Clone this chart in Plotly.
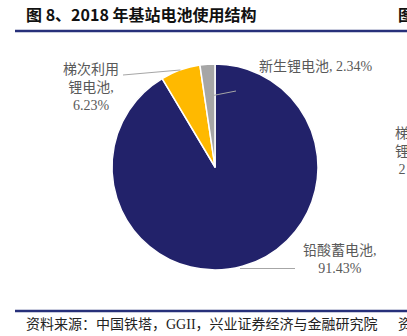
import math
import plotly.graph_objects as go

# 2018 base-station battery mix (share of installed base, %)
labels = ["铅酸蓄电池", "梯次利用锂电池", "新生锂电池"]
shares = [91.43, 6.23, 2.34]
colors = ["#22226A", "#FFB900", "#A6A6A6"]

W, H = 407, 336
CX, CY, R = 215, 167, 103   # pie centre and radius in pixels

def px(x):
    return x / W

def py(y):
    return 1 - y / H

def rim_point(idx, frac_r=1.0):
    """Point on the pie at the middle angle of slice idx (clockwise from 12 o'clock)."""
    total = sum(shares)
    start = sum(shares[:idx]) / total
    mid = (start + shares[idx] / total / 2) * 2 * math.pi
    return CX + R * frac_r * math.sin(mid), CY - R * frac_r * math.cos(mid)

fig = go.Figure(go.Pie(
    labels=labels,
    values=shares,
    sort=False,
    direction="clockwise",
    rotation=0,
    marker=dict(colors=colors, line=dict(color="white", width=1.5)),
    textinfo="none",
    hoverinfo="label+percent",
    showlegend=False,
    domain=dict(x=[px(CX - R), px(CX + R)], y=[py(CY + R), py(CY - R)]),
))

label_font = dict(family="Liberation Serif, Noto Sans CJK SC", size=14, color="#595959")
head_font = dict(family="Noto Sans CJK SC", size=16, color="#111111")
src_font = dict(family="Liberation Serif, Noto Sans CJK SC", size=14, color="#222222")

annotations = [
    dict(x=px(24), y=py(14), text="<b>图 8、2018 年基站电池使用结构</b>",
         xanchor="left", yanchor="middle", showarrow=False, font=head_font),
    dict(x=px(396), y=py(14), text="<b>图</b>",
         xanchor="left", yanchor="middle", showarrow=False, font=head_font),
    dict(x=px(24), y=py(324), text="资料来源：中国铁塔，GGII，兴业证券经济与金融研究院",
         xanchor="left", yanchor="middle", showarrow=False, font=src_font),
    dict(x=px(396), y=py(324), text="资",
         xanchor="left", yanchor="middle", showarrow=False, font=src_font),
    dict(x=px(91), y=py(88),
         text=f"梯次利用<br>锂电池,<br>{shares[1]:.2f}%",
         xanchor="center", yanchor="middle", showarrow=False, font=label_font,
         align="center"),
    dict(x=px(257), y=py(67), text=f"新生锂电池, {shares[2]:.2f}%",
         xanchor="left", yanchor="middle", showarrow=False, font=label_font),
    dict(x=px(340), y=py(259), text=f"铅酸蓄电池,<br>{shares[0]:.2f}%",
         xanchor="center", yanchor="middle", showarrow=False, font=label_font,
         align="center"),
    dict(x=px(393), y=py(151), text="梯<br>锂<br>2",
         xanchor="left", yanchor="middle", showarrow=False, font=label_font),
]

line_style = dict(color="#A6A6A6", width=1)
yx, yy = rim_point(1)
gx, gy = rim_point(2, 0.69)
shapes = [
    # header and footer rules
    dict(type="line", xref="paper", yref="paper", x0=px(15), x1=px(W), y0=py(31), y1=py(31),
         line=dict(color="#27307A", width=2.5)),
    dict(type="line", xref="paper", yref="paper", x0=px(15), x1=px(W), y0=py(311), y1=py(311),
         line=dict(color="#27307A", width=2.5)),
    # leader lines
    dict(type="line", xref="paper", yref="paper", x0=px(yx), y0=py(yy), x1=px(123), y1=py(75),
         line=line_style),
    dict(type="line", xref="paper", yref="paper", x0=px(gx), y0=py(gy), x1=px(236), y1=py(91),
         line=line_style),
    dict(type="line", xref="paper", yref="paper", x0=px(240), y0=py(268.5), x1=px(295), y1=py(268.5),
         line=line_style),
]

fig.update_layout(
    width=W, height=H,
    margin=dict(l=0, r=0, t=0, b=0),
    paper_bgcolor="white",
    plot_bgcolor="white",
    annotations=annotations,
    shapes=shapes,
)

fig.write_html("out.html")
